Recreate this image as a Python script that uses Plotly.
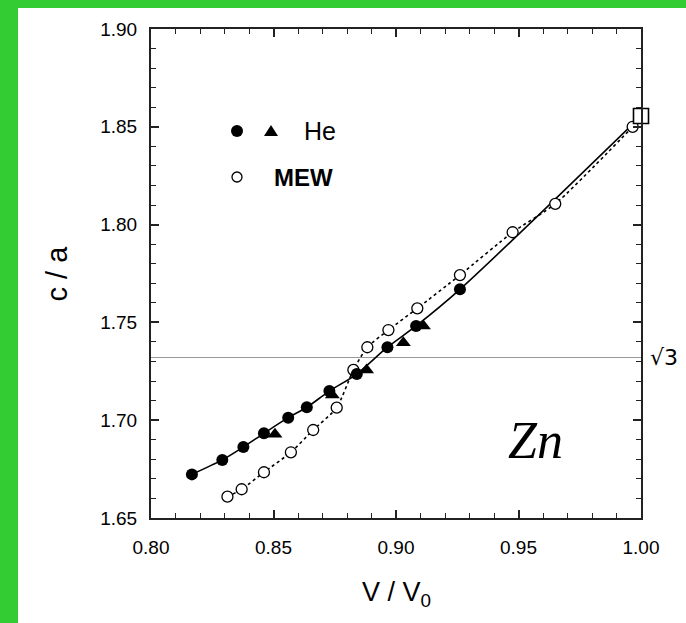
import math
import plotly.graph_objects as go

# ---- data ----
he_circ_v = [0.8167, 0.8291, 0.8377, 0.8461, 0.8560, 0.8636, 0.8728, 0.8840, 0.8965, 0.9082, 0.9261]
he_circ_ca = [1.6723, 1.6797, 1.6863, 1.6933, 1.7013, 1.7066, 1.7149, 1.7236, 1.7373, 1.7482, 1.7669]

he_tri_v = [0.8506, 0.8740, 0.8880, 0.9030, 0.9112]
he_tri_ca = [1.6928, 1.7129, 1.7257, 1.7396, 1.7482]

mew_v = [0.8312, 0.8370, 0.8461, 0.8571, 0.8662, 0.8758, 0.8826, 0.8883, 0.8969,
         0.9087, 0.9261, 0.9476, 0.9650, 0.9966]
mew_ca = [1.6609, 1.6647, 1.6734, 1.6836, 1.6950, 1.7064, 1.7257, 1.7373, 1.7461,
          1.7572, 1.7742, 1.7961, 1.8106, 1.8500]

v0_v = [1.0]
v0_ca = [1.8555]

x_ticks = [0.80, 0.85, 0.90, 0.95, 1.00]
x_ticklabels = ["0.80", "0.85", "0.90", "0.95", "1.00"]
y_ticks = [1.65, 1.70, 1.75, 1.80, 1.85, 1.90]
y_ticklabels = ["1.65", "1.70", "1.75", "1.80", "1.85", "1.90"]

sqrt3 = math.sqrt(3)

# ---- figure ----
fig = go.Figure()

# solid He fit line (He points to V0 point)
fig.add_trace(go.Scatter(
    x=he_circ_v + v0_v, y=he_circ_ca + v0_ca, mode="lines",
    line=dict(color="black", width=1.6, shape="spline", smoothing=0.8),
    showlegend=False, hoverinfo="skip"))
# dotted MEW line
fig.add_trace(go.Scatter(
    x=mew_v, y=mew_ca, mode="lines",
    line=dict(color="black", width=1.6, dash="dot", shape="spline", smoothing=0.6),
    showlegend=False, hoverinfo="skip"))
# MEW open circles
fig.add_trace(go.Scatter(
    x=mew_v, y=mew_ca, mode="markers",
    marker=dict(symbol="circle", size=11, color="white",
                line=dict(color="black", width=1.3)),
    showlegend=False))
# He triangles
fig.add_trace(go.Scatter(
    x=he_tri_v, y=he_tri_ca, mode="markers",
    marker=dict(symbol="triangle-up", size=13, color="black",
                line=dict(color="black", width=0)),
    showlegend=False))
# He filled circles
fig.add_trace(go.Scatter(
    x=he_circ_v, y=he_circ_ca, mode="markers",
    marker=dict(symbol="circle", size=12, color="black",
                line=dict(color="black", width=0)),
    showlegend=False))
# V0 square
fig.add_trace(go.Scatter(
    x=v0_v, y=v0_ca, mode="markers", cliponaxis=False,
    marker=dict(symbol="square", size=15, color="white",
                line=dict(color="black", width=1.6)),
    showlegend=False))

L, R, T, B = 151, 45, 29, 105
W, H = 686, 623
pw, ph = W - L - R, H - T - B


def px(xp):
    return (xp - L) / pw


def py(yp):
    return (H - B - yp) / ph


green = "#33cc33"
shapes = [
    # green frame bands
    dict(type="rect", xref="paper", yref="paper", x0=px(0), x1=px(18), y0=py(H), y1=py(0),
         fillcolor=green, line=dict(width=0), layer="below"),
    dict(type="rect", xref="paper", yref="paper", x0=px(0), x1=px(W), y0=py(8), y1=py(0),
         fillcolor=green, line=dict(width=0), layer="below"),
    # sqrt(3) line
    dict(type="line", xref="paper", yref="y", x0=0, x1=1, y0=sqrt3, y1=sqrt3,
         line=dict(color="#999999", width=1.2), layer="below"),
    # legend glyphs
    dict(type="circle", xref="paper", yref="paper", xsizemode="pixel", ysizemode="pixel",
         xanchor=px(237), yanchor=py(131), x0=-6, x1=6, y0=-6, y1=6,
         fillcolor="black", line=dict(color="black", width=0)),
    dict(type="path", xref="paper", yref="paper", xsizemode="pixel", ysizemode="pixel",
         xanchor=px(271), yanchor=py(131), path="M -7 -5 L 7 -5 L 0 6 Z",
         fillcolor="black", line=dict(color="black", width=0)),
    dict(type="circle", xref="paper", yref="paper", xsizemode="pixel", ysizemode="pixel",
         xanchor=px(237), yanchor=py(177), x0=-5, x1=5, y0=-5, y1=5,
         fillcolor="white", line=dict(color="black", width=1.3)),
]

font = "Liberation Sans, Arial, sans-serif"
annotations = [
    dict(text="He", xref="paper", yref="paper", x=px(302), y=py(131), xanchor="left",
         yanchor="middle", showarrow=False, font=dict(family=font, size=25, color="black")),
    dict(text="<b>MEW</b>", xref="paper", yref="paper", x=px(272), y=py(177), xanchor="left",
         yanchor="middle", showarrow=False, font=dict(family=font, size=24, color="black")),
    dict(text="<i>Zn</i>", xref="paper", yref="paper", x=px(535), y=py(440), xanchor="center",
         yanchor="middle", showarrow=False,
         font=dict(family="Liberation Serif, Times New Roman, serif", size=52, color="black")),
    dict(text="√3", xref="paper", yref="y", x=px(648), y=sqrt3, xanchor="left",
         yanchor="middle", showarrow=False,
         font=dict(family="DejaVu Sans, sans-serif", size=22, color="black")),
    dict(text="c / a", xref="paper", yref="paper", x=px(56), y=0.5, xanchor="center",
         yanchor="middle", textangle=-90, showarrow=False,
         font=dict(family=font, size=29, color="black")),
    dict(text="V / V<sub>0</sub>", xref="paper", yref="paper", x=0.5, y=py(594),
         xanchor="center", yanchor="middle", showarrow=False,
         font=dict(family=font, size=27, color="black")),
]

axis_common = dict(
    showline=True, linecolor="#222222", linewidth=2, mirror="ticks",
    ticks="inside", ticklen=8, tickwidth=1.5, tickcolor="#222222",
    showgrid=False, zeroline=False,
    tickfont=dict(family=font, size=19, color="black"),
)

fig.update_xaxes(range=[0.80, 1.00], tickvals=x_ticks, ticktext=x_ticklabels,
                 minor=dict(ticks="inside", dtick=0.01, ticklen=5, tickwidth=1.3,
                            tickcolor="#222222", showgrid=False),
                 ticklabelstandoff=11, **axis_common)
fig.update_yaxes(range=[1.65, 1.90], tickvals=y_ticks, ticktext=y_ticklabels,
                 minor=dict(ticks="inside", dtick=0.01, ticklen=5, tickwidth=1.3,
                            tickcolor="#222222", showgrid=False),
                 ticklabelstandoff=8, **axis_common)

fig.update_layout(
    width=W, height=H,
    margin=dict(l=L, r=R, t=T, b=B, pad=0),
    paper_bgcolor="white", plot_bgcolor="white",
    shapes=shapes, annotations=annotations,
    showlegend=False,
)

fig.write_html("out.html")
